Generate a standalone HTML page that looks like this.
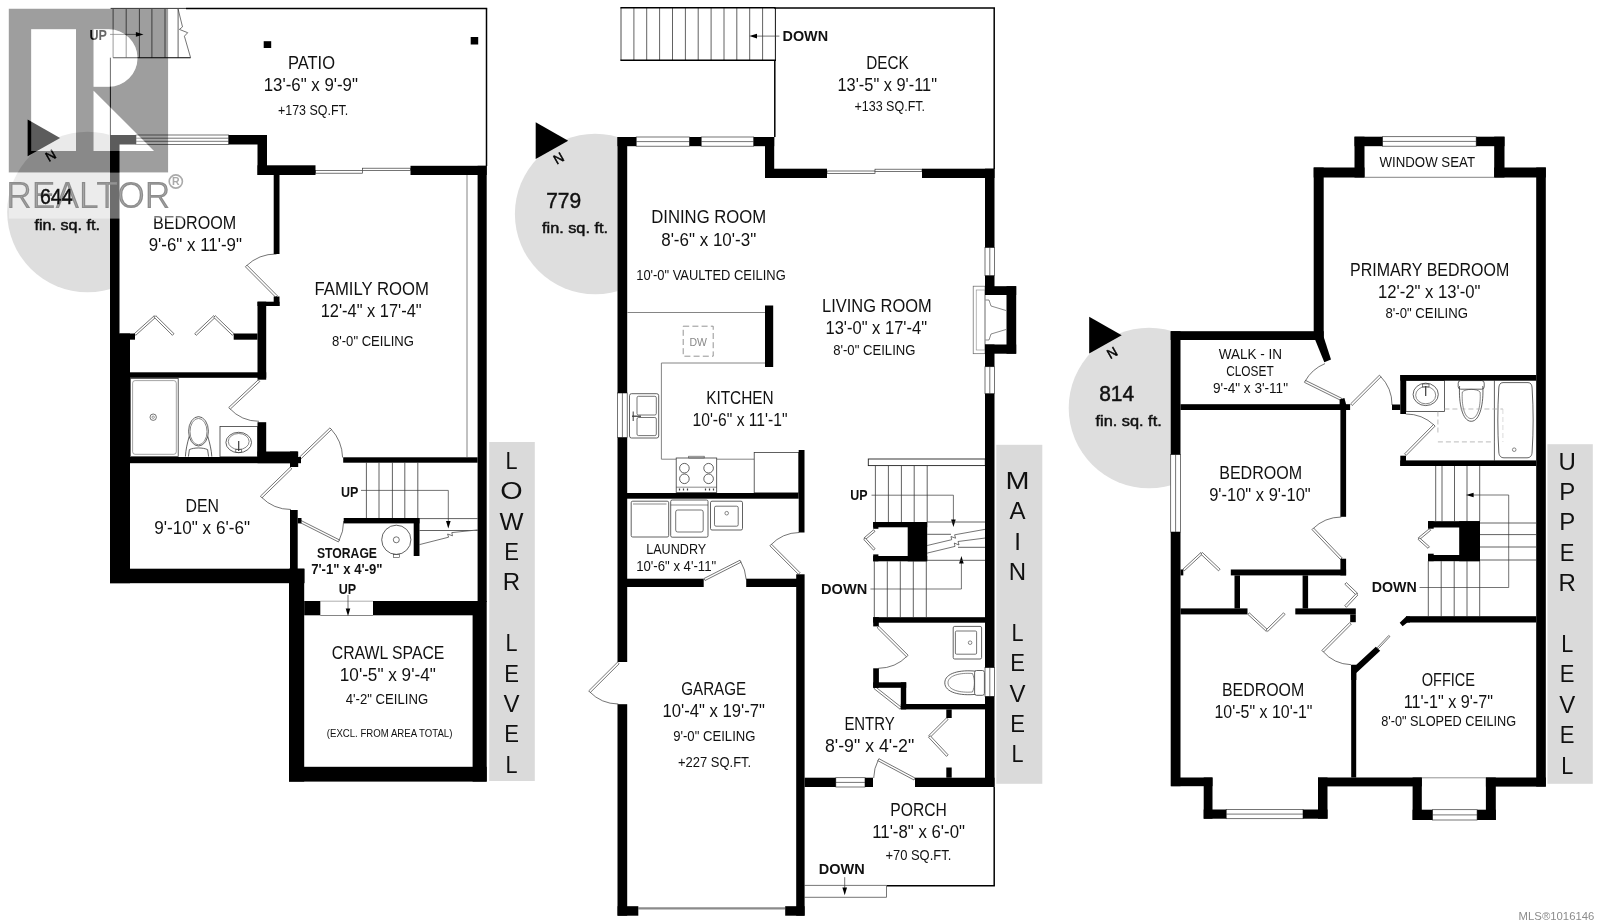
<!DOCTYPE html><html><head><meta charset="utf-8"><style>html,body{margin:0;padding:0;background:#fff}svg{display:block;filter:grayscale(1)}text{font-family:"Liberation Sans",sans-serif}</style></head><body>
<svg width="1600" height="923" viewBox="0 0 1600 923">
<rect width="1600" height="923" fill="#fff"/>
<circle cx="87.5" cy="212" r="80.3" fill="#dedede"/>
<circle cx="595.2" cy="214" r="80.3" fill="#dedede"/>
<circle cx="1149" cy="408" r="80.3" fill="#dedede"/>
<rect x="489.2" y="442" width="45.6" height="339" fill="#dadada"/>
<rect x="996.3" y="444.8" width="46" height="339" fill="#dadada"/>
<rect x="1547.4" y="444.2" width="45.4" height="339.6" fill="#dadada"/>
<g fill="#fff"><rect x="110" y="135" width="376.7" height="448"/><rect x="289" y="568" width="197.7" height="213"/><rect x="617.5" y="137" width="377" height="779"/><rect x="1170.7" y="331.2" width="375" height="455"/></g>
<line x1="110.6" y1="8.4" x2="186.0" y2="8.4" stroke="#222" stroke-width="0.9" />
<line x1="186.0" y1="8.5" x2="487.2" y2="8.5" stroke="#000" stroke-width="1.6" />
<line x1="486.5" y1="8.5" x2="486.5" y2="166.0" stroke="#000" stroke-width="1.5" />
<line x1="110.4" y1="57.7" x2="110.4" y2="135.0" stroke="#000" stroke-width="0.9" />
<line x1="113.1" y1="9.0" x2="113.1" y2="57.7" stroke="#3a3a3a" stroke-width="0.8" />
<line x1="126.2" y1="9.0" x2="126.2" y2="57.7" stroke="#3a3a3a" stroke-width="0.8" />
<line x1="139.4" y1="9.0" x2="139.4" y2="57.7" stroke="#3a3a3a" stroke-width="0.8" />
<line x1="151.9" y1="9.0" x2="151.9" y2="57.7" stroke="#3a3a3a" stroke-width="0.8" />
<line x1="165.0" y1="9.0" x2="165.0" y2="57.7" stroke="#3a3a3a" stroke-width="0.8" />
<line x1="178.1" y1="9.0" x2="178.1" y2="57.7" stroke="#3a3a3a" stroke-width="0.8" />
<line x1="113.1" y1="57.7" x2="190.6" y2="57.7" stroke="#000" stroke-width="1.1" />
<path d="M178.1,9.0 L182.5,26.9 L179.4,29.4 L187.7,32.7 L184.4,36.2 L190.6,57.7" fill="none" stroke="#3a3a3a" stroke-width="0.7" stroke-linejoin="miter"/>
<line x1="110.0" y1="34.4" x2="140.0" y2="34.4" stroke="#3a3a3a" stroke-width="0.7" />
<polygon points="143.5,34.4 135.9,32.1 135.9,36.7" fill="#000"/>
<rect x="263.7" y="41.2" width="7.5" height="6.8" fill="#000"/><rect x="470.7" y="37" width="7.5" height="7.5" fill="#000"/>
<rect x="136.0" y="135.0" width="92.7" height="9.5" rx="0" fill="#fff" stroke="#3a3a3a" stroke-width="0.7" />
<line x1="136.0" y1="138.2" x2="228.7" y2="138.2" stroke="#3a3a3a" stroke-width="0.7" />
<line x1="136.0" y1="141.3" x2="228.7" y2="141.3" stroke="#3a3a3a" stroke-width="0.7" />
<rect x="315.5" y="170.6" width="47.0" height="2.6" rx="0" fill="#fff" stroke="#3a3a3a" stroke-width="0.7" />
<rect x="362.5" y="168.2" width="48.0" height="2.4" rx="0" fill="#fff" stroke="#3a3a3a" stroke-width="0.7" />
<line x1="467.0" y1="175.0" x2="467.0" y2="457.0" stroke="#777" stroke-width="0.9" />
<path d="M246.2,266.0 A43.0,43.0 0 0 1 276.5,254.0" fill="none" stroke="#3a3a3a" stroke-width="0.7"/>
<path d="M277.3,295.7 L247.0,265.2 L245.4,266.8 L275.7,297.3 Z" fill="#fff" stroke="#3a3a3a" stroke-width="0.7" stroke-linejoin="miter"/>
<path d="M229.5,408.3 A40.4,40.4 0 0 0 259.0,421.3" fill="none" stroke="#3a3a3a" stroke-width="0.7"/>
<path d="M258.2,379.9 L228.7,407.5 L230.3,409.1 L259.8,381.5 Z" fill="#fff" stroke="#3a3a3a" stroke-width="0.7" stroke-linejoin="miter"/>
<path d="M330.7,428.7 A43.7,43.7 0 0 1 342.6,457.5" fill="none" stroke="#3a3a3a" stroke-width="0.7"/>
<path d="M300.0,459.8 L331.5,429.5 L329.9,427.9 L298.4,458.2 Z" fill="#fff" stroke="#3a3a3a" stroke-width="0.7" stroke-linejoin="miter"/>
<path d="M261.2,497.0 A41.6,41.6 0 0 0 291.0,509.5" fill="none" stroke="#3a3a3a" stroke-width="0.7"/>
<path d="M290.2,467.2 L260.4,496.2 L262.0,497.8 L291.8,468.8 Z" fill="#fff" stroke="#3a3a3a" stroke-width="0.7" stroke-linejoin="miter"/>
<path d="M338.9,540.9 A44.1,44.1 0 0 0 343.7,521.0" fill="none" stroke="#3a3a3a" stroke-width="0.7"/>
<path d="M299.0,522.0 L338.4,541.9 L339.4,539.9 L300.0,520.0 Z" fill="#fff" stroke="#3a3a3a" stroke-width="0.7" stroke-linejoin="miter"/>
<path d="M135.7,335.3 L155.7,317.3 L154.3,315.7 L134.3,333.7 Z" fill="#fff" stroke="#3a3a3a" stroke-width="0.7" stroke-linejoin="miter"/>
<path d="M154.2,317.3 L172.4,335.3 L174.0,333.7 L155.8,315.7 Z" fill="#fff" stroke="#3a3a3a" stroke-width="0.7" stroke-linejoin="miter"/>
<path d="M196.3,335.3 L215.3,317.3 L213.7,315.7 L194.7,333.7 Z" fill="#fff" stroke="#3a3a3a" stroke-width="0.7" stroke-linejoin="miter"/>
<path d="M213.7,317.3 L232.4,335.3 L234.0,333.7 L215.3,315.7 Z" fill="#fff" stroke="#3a3a3a" stroke-width="0.7" stroke-linejoin="miter"/>
<rect x="130.5" y="378.5" width="47.7" height="78.0" rx="0" fill="none" stroke="#3a3a3a" stroke-width="0.8" />
<rect x="132.6" y="380.6" width="43.7" height="73.7" rx="2.5" fill="none" stroke="#666" stroke-width="0.6" />
<circle cx="153.2" cy="417.2" r="3.2" fill="none" stroke="#3a3a3a" stroke-width="0.7"/><circle cx="153.2" cy="417.2" r="1.2" fill="none" stroke="#3a3a3a" stroke-width="0.5"/>
<ellipse cx="198.5" cy="431.3" rx="9.9" ry="14.7" fill="#fff" stroke="#3a3a3a" stroke-width="0.8"/><ellipse cx="198.5" cy="431.6" rx="8.5" ry="13.2" fill="none" stroke="#3a3a3a" stroke-width="0.6"/>
<path d="M189.2,436.5 C187,444 185.8,450 185.4,456.6 M207.8,436.5 C210,444 211.4,450 211.8,456.6" fill="none" stroke="#3a3a3a" stroke-width="0.8"/>
<path d="M188.4,456.6 L189.4,449.6 C194,447.4 203,447.4 207.6,449.6 L208.6,456.6" fill="#fff" stroke="#3a3a3a" stroke-width="0.8"/>
<rect x="220.0" y="426.5" width="37.5" height="30.3" rx="0" fill="none" stroke="#3a3a3a" stroke-width="0.8" />
<ellipse cx="238.7" cy="442.5" rx="12.8" ry="10.2" fill="none" stroke="#3a3a3a" stroke-width="0.8"/><ellipse cx="238.7" cy="441.5" rx="10.4" ry="8" fill="none" stroke="#3a3a3a" stroke-width="0.6"/>
<line x1="238.7" y1="441.0" x2="238.7" y2="451.0" stroke="#3a3a3a" stroke-width="1.2" />
<rect x="235.8" y="449.5" width="5.8" height="3.0" rx="0" fill="none" stroke="#3a3a3a" stroke-width="0.6" />
<line x1="366.4" y1="462.7" x2="366.4" y2="518.0" stroke="#3a3a3a" stroke-width="0.8" />
<line x1="379.0" y1="462.7" x2="379.0" y2="518.0" stroke="#3a3a3a" stroke-width="0.8" />
<line x1="392.4" y1="462.7" x2="392.4" y2="518.0" stroke="#3a3a3a" stroke-width="0.8" />
<line x1="404.8" y1="462.7" x2="404.8" y2="518.0" stroke="#3a3a3a" stroke-width="0.8" />
<line x1="417.8" y1="462.7" x2="417.8" y2="518.0" stroke="#3a3a3a" stroke-width="0.8" />
<path d="M361.0,490.4 L448.3,490.4 L448.3,523.0" fill="none" stroke="#3a3a3a" stroke-width="0.7" stroke-linejoin="miter"/>
<polygon points="448.3,528.5 446.0,520.9 450.6,520.9" fill="#000"/>
<line x1="419.5" y1="518.6" x2="477.6" y2="518.6" stroke="#3a3a3a" stroke-width="0.8" />
<line x1="419.5" y1="530.5" x2="477.6" y2="530.5" stroke="#3a3a3a" stroke-width="0.8" />
<path d="M419.5,544.6 L448.6,537.2 L447.6,534.0 L452.5,535.8 L451.8,532.6 L477.6,529.9" fill="#fff" stroke="#3a3a3a" stroke-width="0.7" stroke-linejoin="miter"/>
<circle cx="396.3" cy="539.8" r="14.6" fill="#fff" stroke="#3a3a3a" stroke-width="0.8"/><circle cx="396.3" cy="539.8" r="3" fill="none" stroke="#3a3a3a" stroke-width="0.7"/>
<rect x="393.6" y="554.4" width="5.8" height="3.2" rx="0" fill="none" stroke="#3a3a3a" stroke-width="0.6" />
<line x1="320.3" y1="601.2" x2="373.0" y2="601.2" stroke="#999" stroke-width="0.8" />
<line x1="320.3" y1="615.5" x2="373.0" y2="615.5" stroke="#777" stroke-width="0.9" />
<line x1="348.0" y1="595.0" x2="348.0" y2="610.0" stroke="#3a3a3a" stroke-width="0.7" />
<polygon points="348.0,616.0 345.7,608.4 350.3,608.4" fill="#000"/>
<line x1="621.0" y1="7.8" x2="621.0" y2="60.3" stroke="#3a3a3a" stroke-width="0.9" />
<line x1="633.9" y1="8.0" x2="633.9" y2="60.0" stroke="#3a3a3a" stroke-width="0.8" />
<line x1="646.7" y1="8.0" x2="646.7" y2="60.0" stroke="#3a3a3a" stroke-width="0.8" />
<line x1="659.6" y1="8.0" x2="659.6" y2="60.0" stroke="#3a3a3a" stroke-width="0.8" />
<line x1="672.5" y1="8.0" x2="672.5" y2="60.0" stroke="#3a3a3a" stroke-width="0.8" />
<line x1="685.4" y1="8.0" x2="685.4" y2="60.0" stroke="#3a3a3a" stroke-width="0.8" />
<line x1="698.2" y1="8.0" x2="698.2" y2="60.0" stroke="#3a3a3a" stroke-width="0.8" />
<line x1="711.1" y1="8.0" x2="711.1" y2="60.0" stroke="#3a3a3a" stroke-width="0.8" />
<line x1="724.0" y1="8.0" x2="724.0" y2="60.0" stroke="#3a3a3a" stroke-width="0.8" />
<line x1="736.8" y1="8.0" x2="736.8" y2="60.0" stroke="#3a3a3a" stroke-width="0.8" />
<line x1="749.7" y1="8.0" x2="749.7" y2="60.0" stroke="#3a3a3a" stroke-width="0.8" />
<line x1="762.6" y1="8.0" x2="762.6" y2="60.0" stroke="#3a3a3a" stroke-width="0.8" />
<line x1="775.4" y1="7.8" x2="775.4" y2="60.3" stroke="#111" stroke-width="1.0" />
<line x1="620.4" y1="7.8" x2="775.4" y2="7.8" stroke="#000" stroke-width="1.5" />
<line x1="620.4" y1="60.3" x2="776.0" y2="60.3" stroke="#000" stroke-width="1.5" />
<line x1="774.2" y1="8.0" x2="995.0" y2="8.0" stroke="#000" stroke-width="1.5" />
<line x1="994.2" y1="8.0" x2="994.2" y2="169.0" stroke="#000" stroke-width="1.5" />
<line x1="774.8" y1="60.0" x2="774.8" y2="137.0" stroke="#000" stroke-width="1.5" />
<line x1="756.0" y1="36.1" x2="779.4" y2="36.1" stroke="#3a3a3a" stroke-width="0.7" />
<polygon points="749.4,36.1 757.0,33.8 757.0,38.4" fill="#000"/>
<rect x="636.2" y="137.0" width="53.3" height="9.2" rx="0" fill="#fff" stroke="#3a3a3a" stroke-width="0.7" />
<line x1="636.2" y1="141.6" x2="689.5" y2="141.6" stroke="#3a3a3a" stroke-width="0.7" />
<rect x="701.2" y="137.0" width="52.5" height="9.2" rx="0" fill="#fff" stroke="#3a3a3a" stroke-width="0.7" />
<line x1="701.2" y1="141.6" x2="753.7" y2="141.6" stroke="#3a3a3a" stroke-width="0.7" />
<rect x="827.0" y="171.0" width="48.0" height="2.4" rx="0" fill="#fff" stroke="#3a3a3a" stroke-width="0.7" />
<rect x="875.0" y="169.2" width="47.0" height="2.2" rx="0" fill="#fff" stroke="#3a3a3a" stroke-width="0.7" />
<rect x="985.0" y="247.5" width="9.5" height="28.2" rx="0" fill="#fff" stroke="#3a3a3a" stroke-width="0.7" />
<line x1="989.8" y1="247.5" x2="989.8" y2="275.7" stroke="#3a3a3a" stroke-width="0.7" />
<rect x="985.0" y="366.7" width="9.5" height="27.0" rx="0" fill="#fff" stroke="#3a3a3a" stroke-width="0.7" />
<line x1="989.8" y1="366.7" x2="989.8" y2="393.7" stroke="#3a3a3a" stroke-width="0.7" />
<rect x="985.0" y="667.6" width="9.5" height="28.8" rx="0" fill="#fff" stroke="#3a3a3a" stroke-width="0.7" />
<line x1="989.8" y1="667.6" x2="989.8" y2="696.4" stroke="#3a3a3a" stroke-width="0.7" />
<rect x="617.5" y="393.0" width="9.7" height="44.5" rx="0" fill="#fff" stroke="#3a3a3a" stroke-width="0.7" />
<line x1="622.4" y1="393.0" x2="622.4" y2="437.5" stroke="#3a3a3a" stroke-width="0.7" />
<rect x="835.8" y="777.7" width="29.2" height="9.3" rx="0" fill="#fff" stroke="#3a3a3a" stroke-width="0.7" />
<line x1="835.8" y1="782.4" x2="865.0" y2="782.4" stroke="#3a3a3a" stroke-width="0.7" />
<line x1="627.5" y1="312.5" x2="765.0" y2="312.5" stroke="#777" stroke-width="0.9" />
<line x1="661.4" y1="363.0" x2="765.0" y2="363.0" stroke="#777" stroke-width="0.9" />
<line x1="661.4" y1="363.0" x2="661.4" y2="459.2" stroke="#777" stroke-width="0.9" />
<line x1="661.4" y1="459.2" x2="676.2" y2="459.2" stroke="#777" stroke-width="0.9" />
<line x1="716.7" y1="459.2" x2="754.2" y2="459.2" stroke="#777" stroke-width="0.9" />
<rect x="683.2" y="326.2" width="30" height="30" fill="none" stroke="#888" stroke-width="0.9" stroke-dasharray="6 3.2"/>
<text x="698.2" y="346" font-size="10.5" text-anchor="middle" fill="#888">DW</text>
<rect x="629.5" y="393.7" width="29.2" height="44.3" rx="2" fill="#fff" stroke="#3a3a3a" stroke-width="0.8" />
<rect x="637.0" y="396.3" width="19.3" height="18.7" rx="1.5" fill="none" stroke="#3a3a3a" stroke-width="0.7" />
<rect x="637.0" y="417.5" width="19.3" height="18.1" rx="1.5" fill="none" stroke="#3a3a3a" stroke-width="0.7" />
<line x1="632.0" y1="416.2" x2="641.0" y2="416.2" stroke="#3a3a3a" stroke-width="1.3" />
<line x1="633.2" y1="411.5" x2="633.2" y2="421.0" stroke="#3a3a3a" stroke-width="1.0" />
<rect x="676.2" y="458.0" width="40.5" height="34.5" rx="0" fill="#fff" stroke="#3a3a3a" stroke-width="0.8" />
<rect x="688.7" y="456.2" width="15.5" height="1.8" rx="0" fill="none" stroke="#3a3a3a" stroke-width="0.6" />
<circle cx="684.4" cy="468.2" r="4.8" fill="none" stroke="#3a3a3a" stroke-width="0.8"/>
<circle cx="684.4" cy="478.8" r="4.8" fill="none" stroke="#3a3a3a" stroke-width="0.8"/>
<circle cx="708.6" cy="468.2" r="4.8" fill="none" stroke="#3a3a3a" stroke-width="0.8"/>
<circle cx="708.6" cy="478.8" r="4.8" fill="none" stroke="#3a3a3a" stroke-width="0.8"/>
<line x1="676.2" y1="487.2" x2="716.7" y2="487.2" stroke="#3a3a3a" stroke-width="0.6" />
<line x1="679.5" y1="488.5" x2="679.5" y2="490.5" stroke="#3a3a3a" stroke-width="1.2" />
<line x1="683.5" y1="488.5" x2="683.5" y2="490.5" stroke="#3a3a3a" stroke-width="1.2" />
<line x1="687.5" y1="488.5" x2="687.5" y2="490.5" stroke="#3a3a3a" stroke-width="1.2" />
<line x1="705.5" y1="488.5" x2="705.5" y2="490.5" stroke="#3a3a3a" stroke-width="1.2" />
<line x1="709.5" y1="488.5" x2="709.5" y2="490.5" stroke="#3a3a3a" stroke-width="1.2" />
<line x1="713.5" y1="488.5" x2="713.5" y2="490.5" stroke="#3a3a3a" stroke-width="1.2" />
<rect x="754.2" y="452.5" width="44.5" height="40.3" rx="0" fill="#fff" stroke="#3a3a3a" stroke-width="0.8" />
<rect x="631.2" y="501.2" width="37.5" height="35.8" rx="1.5" fill="none" stroke="#3a3a3a" stroke-width="0.8" />
<line x1="633.0" y1="504.0" x2="666.5" y2="504.0" stroke="#3a3a3a" stroke-width="0.6" />
<rect x="670.7" y="500.0" width="37.3" height="37.2" rx="1.5" fill="none" stroke="#3a3a3a" stroke-width="0.8" />
<line x1="670.7" y1="505.0" x2="708.0" y2="505.0" stroke="#3a3a3a" stroke-width="0.6" />
<rect x="675.7" y="510.0" width="27.5" height="22.0" rx="2" fill="none" stroke="#3a3a3a" stroke-width="0.7" />
<rect x="710.5" y="501.2" width="32.0" height="28.8" rx="1.5" fill="none" stroke="#3a3a3a" stroke-width="0.8" />
<rect x="714.5" y="506.2" width="23.7" height="20.0" rx="1.5" fill="none" stroke="#3a3a3a" stroke-width="0.7" />
<circle cx="726.7" cy="513.2" r="1.8" fill="none" stroke="#3a3a3a" stroke-width="0.6"/>
<path d="M770.7,545.0 A40.3,40.3 0 0 1 799.2,532.5" fill="none" stroke="#3a3a3a" stroke-width="0.7"/>
<path d="M800.0,572.7 L771.5,544.2 L769.9,545.8 L798.4,574.3 Z" fill="#fff" stroke="#3a3a3a" stroke-width="0.7" stroke-linejoin="miter"/>
<path d="M740.5,561.2 A40.4,40.4 0 0 1 746.2,579.5" fill="none" stroke="#3a3a3a" stroke-width="0.7"/>
<path d="M705.0,580.5 L741.0,562.2 L740.0,560.2 L704.0,578.5 Z" fill="#fff" stroke="#3a3a3a" stroke-width="0.7" stroke-linejoin="miter"/>
<path d="M589.5,691.7 A40.7,40.7 0 0 0 618.3,704.0" fill="none" stroke="#3a3a3a" stroke-width="0.7"/>
<path d="M617.5,662.2 L588.7,690.9 L590.3,692.5 L619.1,663.8 Z" fill="#fff" stroke="#3a3a3a" stroke-width="0.7" stroke-linejoin="miter"/>
<path d="M907.3,656.0 A41.2,41.2 0 0 1 878.4,668.3" fill="none" stroke="#3a3a3a" stroke-width="0.7"/>
<path d="M877.2,627.8 L906.5,656.8 L908.1,655.2 L878.8,626.2 Z" fill="#fff" stroke="#3a3a3a" stroke-width="0.7" stroke-linejoin="miter"/>
<path d="M878.4,759.7 A40.9,40.9 0 0 0 873.7,778.0" fill="none" stroke="#3a3a3a" stroke-width="0.7"/>
<path d="M915.0,778.0 L878.9,758.7 L877.9,760.7 L914.0,780.0 Z" fill="#fff" stroke="#3a3a3a" stroke-width="0.7" stroke-linejoin="miter"/>
<path d="M874.1,688.7 L900.1,709.2 L901.5,707.4 L875.5,686.9 Z" fill="#fff" stroke="#3a3a3a" stroke-width="0.7" stroke-linejoin="miter"/>
<path d="M946.5,717.9 L928.6,735.7 L930.2,737.3 L948.1,719.5 Z" fill="#fff" stroke="#3a3a3a" stroke-width="0.7" stroke-linejoin="miter"/>
<path d="M928.6,737.3 L946.5,756.4 L948.1,754.8 L930.2,735.7 Z" fill="#fff" stroke="#3a3a3a" stroke-width="0.7" stroke-linejoin="miter"/>
<path d="M873.6,529.8 L863.9,538.0 L865.3,539.6 L875.0,531.4 Z" fill="#fff" stroke="#3a3a3a" stroke-width="0.7" stroke-linejoin="miter"/>
<path d="M863.8,539.5 L873.5,550.1 L875.1,548.7 L865.4,538.1 Z" fill="#fff" stroke="#3a3a3a" stroke-width="0.7" stroke-linejoin="miter"/>
<rect x="973.2" y="286.2" width="11.8" height="67.5" rx="0" fill="none" stroke="#666" stroke-width="0.7" />
<rect x="976.2" y="290.0" width="8.8" height="60.0" rx="0" fill="none" stroke="#888" stroke-width="0.6" />
<path d="M985.5,300.0 L989.0,300.0 L991.0,306.0 L1006.0,310.5" fill="none" stroke="#3a3a3a" stroke-width="0.6" stroke-linejoin="miter"/>
<path d="M985.5,340.0 L989.0,340.0 L991.0,334.0 L1006.0,329.5" fill="none" stroke="#3a3a3a" stroke-width="0.6" stroke-linejoin="miter"/>
<rect x="868.3" y="459.0" width="117.0" height="6.6" rx="0" fill="#fff" stroke="#222" stroke-width="0.9" />
<line x1="875.4" y1="465.6" x2="875.4" y2="522.0" stroke="#3a3a3a" stroke-width="0.8" />
<line x1="888.4" y1="465.6" x2="888.4" y2="522.0" stroke="#3a3a3a" stroke-width="0.8" />
<line x1="901.4" y1="465.6" x2="901.4" y2="522.0" stroke="#3a3a3a" stroke-width="0.8" />
<line x1="914.2" y1="465.6" x2="914.2" y2="522.0" stroke="#3a3a3a" stroke-width="0.8" />
<line x1="927.2" y1="465.6" x2="927.2" y2="522.0" stroke="#3a3a3a" stroke-width="0.8" />
<line x1="874.3" y1="561.3" x2="874.3" y2="617.2" stroke="#3a3a3a" stroke-width="0.8" />
<line x1="887.3" y1="561.3" x2="887.3" y2="617.2" stroke="#3a3a3a" stroke-width="0.8" />
<line x1="900.3" y1="561.3" x2="900.3" y2="617.2" stroke="#3a3a3a" stroke-width="0.8" />
<line x1="913.3" y1="561.3" x2="913.3" y2="617.2" stroke="#3a3a3a" stroke-width="0.8" />
<line x1="926.3" y1="561.3" x2="926.3" y2="617.2" stroke="#3a3a3a" stroke-width="0.8" />
<path d="M871.5,495.2 L953.4,495.2 L953.4,521.0" fill="none" stroke="#3a3a3a" stroke-width="0.7" stroke-linejoin="miter"/>
<polygon points="953.4,527.0 951.1,519.4 955.7,519.4" fill="#000"/>
<path d="M870.4,589.0 L961.4,589.0 L961.4,562.0" fill="none" stroke="#3a3a3a" stroke-width="0.7" stroke-linejoin="miter"/>
<polygon points="961.4,556.0 959.1,563.6 963.7,563.6" fill="#000"/>
<line x1="927.2" y1="522.0" x2="985.3" y2="522.0" stroke="#3a3a3a" stroke-width="0.8" />
<line x1="927.2" y1="534.3" x2="951.0" y2="534.3" stroke="#3a3a3a" stroke-width="0.8" />
<line x1="958.0" y1="547.3" x2="985.3" y2="547.3" stroke="#3a3a3a" stroke-width="0.8" />
<line x1="927.2" y1="560.3" x2="985.3" y2="560.3" stroke="#3a3a3a" stroke-width="0.8" />
<path d="M927.2,545.5 L951.7,539.7 L951.0,536.5 L955.6,538.2 L954.6,534.8 L985.3,529.3" fill="none" stroke="#3a3a3a" stroke-width="0.7" stroke-linejoin="miter"/>
<path d="M927.2,553.1 L955.0,546.4 L954.3,543.0 L959.0,545.0 L958.0,541.5 L985.3,538.0" fill="none" stroke="#3a3a3a" stroke-width="0.7" stroke-linejoin="miter"/>
<rect x="953.2" y="626.4" width="28.4" height="32.6" rx="1.5" fill="none" stroke="#3a3a3a" stroke-width="0.8" />
<rect x="955.4" y="631.0" width="21.2" height="23.2" rx="1.2" fill="none" stroke="#3a3a3a" stroke-width="0.7" />
<circle cx="970.1" cy="642.7" r="1.8" fill="none" stroke="#3a3a3a" stroke-width="0.6"/>
<path d="M976,671.2 C960,669.5 944.8,673 944.8,682.8 C944.8,692.5 960,696 976,694.3 Z" fill="#fff" stroke="#3a3a3a" stroke-width="0.8"/>
<path d="M972.5,673.5 C960,672.5 948,675.5 948,682.8 C948,690 960,693 972.5,692 C975,686 975,679.5 972.5,673.5 Z" fill="none" stroke="#3a3a3a" stroke-width="0.6"/>
<rect x="974.6" y="670.5" width="9.8" height="24.8" rx="2" fill="#fff" stroke="#3a3a3a" stroke-width="0.8" />
<line x1="638.3" y1="908.4" x2="785.2" y2="908.4" stroke="#8a8a8a" stroke-width="2.2" />
<line x1="994.2" y1="787.0" x2="994.2" y2="885.7" stroke="#000" stroke-width="1.5" />
<line x1="886.5" y1="885.7" x2="994.9" y2="885.7" stroke="#000" stroke-width="1.5" />
<line x1="804.6" y1="885.4" x2="886.5" y2="885.4" stroke="#666" stroke-width="0.9" />
<line x1="804.6" y1="897.3" x2="886.5" y2="897.3" stroke="#666" stroke-width="0.9" />
<line x1="886.5" y1="885.4" x2="886.5" y2="897.3" stroke="#666" stroke-width="0.9" />
<line x1="844.7" y1="877.2" x2="844.7" y2="890.0" stroke="#3a3a3a" stroke-width="0.7" />
<polygon points="844.7,895.2 842.4,887.6 847.0,887.6" fill="#000"/>
<rect x="1382.5" y="136.7" width="93.7" height="9.5" rx="0" fill="#fff" stroke="#3a3a3a" stroke-width="0.7" />
<line x1="1382.5" y1="141.4" x2="1476.2" y2="141.4" stroke="#3a3a3a" stroke-width="0.7" />
<line x1="1364.5" y1="177.3" x2="1494.2" y2="177.3" stroke="#777" stroke-width="0.9" />
<rect x="1170.7" y="454.6" width="9.8" height="77.4" rx="0" fill="#fff" stroke="#3a3a3a" stroke-width="0.7" />
<line x1="1175.6" y1="454.6" x2="1175.6" y2="532.0" stroke="#3a3a3a" stroke-width="0.7" />
<rect x="1226.2" y="809.5" width="76.8" height="9.2" rx="0" fill="#fff" stroke="#3a3a3a" stroke-width="0.7" />
<line x1="1226.2" y1="814.1" x2="1303.0" y2="814.1" stroke="#3a3a3a" stroke-width="0.7" />
<rect x="1432.5" y="809.7" width="44.6" height="10.3" rx="0" fill="#fff" stroke="#3a3a3a" stroke-width="0.7" />
<line x1="1432.5" y1="814.9" x2="1477.1" y2="814.9" stroke="#3a3a3a" stroke-width="0.7" />
<line x1="1421.8" y1="777.8" x2="1485.9" y2="777.8" stroke="#888" stroke-width="0.9" />
<path d="M1305.0,381.4 A40.4,40.4 0 0 1 1325.0,363.6" fill="none" stroke="#3a3a3a" stroke-width="0.7"/>
<path d="M1341.7,398.3 L1305.5,380.4 L1304.5,382.4 L1340.7,400.3 Z" fill="#fff" stroke="#3a3a3a" stroke-width="0.7" stroke-linejoin="miter"/>
<path d="M1380.2,376.0 A40.7,40.7 0 0 1 1392.0,405.0" fill="none" stroke="#3a3a3a" stroke-width="0.7"/>
<path d="M1352.2,405.5 L1381.0,376.8 L1379.4,375.2 L1350.6,403.9 Z" fill="#fff" stroke="#3a3a3a" stroke-width="0.7" stroke-linejoin="miter"/>
<path d="M1434.3,425.3 A41.2,41.2 0 0 0 1405.7,414.0" fill="none" stroke="#3a3a3a" stroke-width="0.7"/>
<path d="M1406.2,455.4 L1435.1,426.1 L1433.5,424.5 L1404.6,453.8 Z" fill="#fff" stroke="#3a3a3a" stroke-width="0.7" stroke-linejoin="miter"/>
<path d="M1312.8,528.8 A41.3,41.3 0 0 1 1341.3,517.0" fill="none" stroke="#3a3a3a" stroke-width="0.7"/>
<path d="M1342.1,557.9 L1313.6,528.0 L1312.0,529.6 L1340.5,559.5 Z" fill="#fff" stroke="#3a3a3a" stroke-width="0.7" stroke-linejoin="miter"/>
<path d="M1322.7,651.2 A39.4,39.4 0 0 0 1351.0,664.7" fill="none" stroke="#3a3a3a" stroke-width="0.7"/>
<path d="M1349.7,622.5 L1321.9,650.4 L1323.5,652.0 L1351.3,624.1 Z" fill="#fff" stroke="#3a3a3a" stroke-width="0.7" stroke-linejoin="miter"/>
<path d="M1378.6,648.5 L1389.9,636.5 L1388.7,635.5 L1377.4,647.5 Z" fill="#fff" stroke="#3a3a3a" stroke-width="0.7" stroke-linejoin="miter"/>
<path d="M1184.3,570.8 L1202.3,554.1 L1200.9,552.5 L1182.9,569.2 Z" fill="#fff" stroke="#3a3a3a" stroke-width="0.7" stroke-linejoin="miter"/>
<path d="M1200.8,554.1 L1218.5,570.8 L1220.1,569.2 L1202.4,552.5 Z" fill="#fff" stroke="#3a3a3a" stroke-width="0.7" stroke-linejoin="miter"/>
<path d="M1247.9,614.4 L1266.3,631.4 L1267.7,629.8 L1249.3,612.8 Z" fill="#fff" stroke="#3a3a3a" stroke-width="0.7" stroke-linejoin="miter"/>
<path d="M1267.8,631.4 L1285.1,614.4 L1283.5,612.8 L1266.2,629.8 Z" fill="#fff" stroke="#3a3a3a" stroke-width="0.7" stroke-linejoin="miter"/>
<path d="M1344.8,584.2 L1356.2,595.1 L1357.8,593.5 L1346.4,582.6 Z" fill="#fff" stroke="#3a3a3a" stroke-width="0.7" stroke-linejoin="miter"/>
<path d="M1356.2,593.5 L1344.8,605.7 L1346.4,607.3 L1357.8,595.1 Z" fill="#fff" stroke="#3a3a3a" stroke-width="0.7" stroke-linejoin="miter"/>
<path d="M1429.3,528.7 L1418.2,537.9 L1419.6,539.5 L1430.7,530.3 Z" fill="#fff" stroke="#3a3a3a" stroke-width="0.7" stroke-linejoin="miter"/>
<path d="M1418.2,539.5 L1428.0,548.3 L1429.4,546.7 L1419.6,537.9 Z" fill="#fff" stroke="#3a3a3a" stroke-width="0.7" stroke-linejoin="miter"/>
<rect x="1405.9" y="380.6" width="38.5" height="30.9" rx="0" fill="none" stroke="#3a3a3a" stroke-width="0.8" />
<ellipse cx="1425.7" cy="394.4" rx="12.6" ry="11.2" fill="none" stroke="#3a3a3a" stroke-width="0.8"/><ellipse cx="1425.7" cy="395.2" rx="10" ry="8.6" fill="none" stroke="#3a3a3a" stroke-width="0.6"/>
<line x1="1425.7" y1="386.0" x2="1425.7" y2="396.0" stroke="#3a3a3a" stroke-width="1.2" />
<rect x="1422.5" y="384.0" width="6.5" height="3.0" rx="0" fill="none" stroke="#3a3a3a" stroke-width="0.6" />
<rect x="1458.2" y="380.6" width="26.0" height="8.6" rx="2.5" fill="#fff" stroke="#3a3a3a" stroke-width="0.8" />
<path d="M1459.6,386 C1458.6,402 1462,421.3 1471.2,421.3 C1480.4,421.3 1483.8,402 1482.8,386" fill="none" stroke="#3a3a3a" stroke-width="0.8"/>
<path d="M1462.3,392 C1461.5,404 1464,418.6 1471.2,418.6 C1478.4,418.6 1481,404 1480.1,392 C1477,388.5 1465.5,388.5 1462.3,392 Z" fill="none" stroke="#3a3a3a" stroke-width="0.6"/>
<line x1="1494.4" y1="380.6" x2="1494.4" y2="460.6" stroke="#3a3a3a" stroke-width="0.8" />
<path d="M1503,382.6 L1528,382.6 C1531,382.6 1532,385 1532.1,388 C1533.5,410 1533.5,430 1532.1,452 C1532,456 1530,457.8 1527,457.8 L1504,457.8 C1501,457.8 1499,456 1498.8,452 C1497.5,430 1497.5,410 1498.8,388 C1499,385 1500,382.6 1503,382.6 Z" fill="none" stroke="#3a3a3a" stroke-width="0.8"/>
<circle cx="1514.2" cy="449.7" r="1.8" fill="none" stroke="#3a3a3a" stroke-width="0.6"/>
<line x1="1444.4" y1="409.0" x2="1502.9" y2="409.0" stroke="#aaa" stroke-width="0.8" stroke-dasharray="5 3"/>
<line x1="1437.9" y1="441.9" x2="1494.4" y2="441.9" stroke="#aaa" stroke-width="0.8" stroke-dasharray="5 3"/>
<line x1="1437.9" y1="411.5" x2="1437.9" y2="433.4" stroke="#aaa" stroke-width="0.8" stroke-dasharray="5 3"/>
<line x1="1502.9" y1="409.0" x2="1502.9" y2="442.0" stroke="#ccc" stroke-width="0.7" stroke-dasharray="5 3"/>
<line x1="1435.7" y1="465.7" x2="1435.7" y2="521.2" stroke="#3a3a3a" stroke-width="0.8" />
<line x1="1442.0" y1="465.7" x2="1442.0" y2="521.2" stroke="#3a3a3a" stroke-width="0.8" />
<line x1="1454.5" y1="465.7" x2="1454.5" y2="521.2" stroke="#3a3a3a" stroke-width="0.8" />
<line x1="1467.0" y1="465.7" x2="1467.0" y2="521.2" stroke="#3a3a3a" stroke-width="0.8" />
<line x1="1479.7" y1="465.7" x2="1479.7" y2="521.2" stroke="#3a3a3a" stroke-width="0.8" />
<line x1="1428.3" y1="561.2" x2="1428.3" y2="616.2" stroke="#3a3a3a" stroke-width="0.8" />
<line x1="1441.2" y1="561.2" x2="1441.2" y2="616.2" stroke="#3a3a3a" stroke-width="0.8" />
<line x1="1454.2" y1="561.2" x2="1454.2" y2="616.2" stroke="#3a3a3a" stroke-width="0.8" />
<line x1="1467.0" y1="561.2" x2="1467.0" y2="616.2" stroke="#3a3a3a" stroke-width="0.8" />
<line x1="1479.7" y1="561.2" x2="1479.7" y2="616.2" stroke="#3a3a3a" stroke-width="0.8" />
<line x1="1480.0" y1="523.0" x2="1536.0" y2="523.0" stroke="#3a3a3a" stroke-width="0.8" />
<line x1="1480.0" y1="534.6" x2="1536.0" y2="534.6" stroke="#3a3a3a" stroke-width="0.8" />
<line x1="1480.0" y1="547.0" x2="1536.0" y2="547.0" stroke="#3a3a3a" stroke-width="0.8" />
<line x1="1480.0" y1="560.0" x2="1536.0" y2="560.0" stroke="#3a3a3a" stroke-width="0.8" />
<path d="M1472.0,495.0 L1508.7,495.0 L1508.7,587.5 L1419.5,587.5" fill="none" stroke="#3a3a3a" stroke-width="0.7" stroke-linejoin="miter"/>
<polygon points="1466.0,495.0 1473.6,492.7 1473.6,497.3" fill="#000"/>
<g fill="#000">
<rect x="110.0" y="135.0" width="9.5" height="199.0"/>
<rect x="110.0" y="333.5" width="20.0" height="249.7"/>
<rect x="110.0" y="135.0" width="26.0" height="9.5"/>
<rect x="228.7" y="135.0" width="38.3" height="9.5"/>
<rect x="257.5" y="135.0" width="9.5" height="40.0"/>
<rect x="257.5" y="165.3" width="58.0" height="9.7"/>
<rect x="410.5" y="165.8" width="76.2" height="9.2"/>
<rect x="477.6" y="165.8" width="9.1" height="436.2"/>
<rect x="472.6" y="601.0" width="14.1" height="180.6"/>
<rect x="273.7" y="175.0" width="5.8" height="79.0"/>
<rect x="273.7" y="296.5" width="5.8" height="9.5"/>
<rect x="257.5" y="301.7" width="22.0" height="4.3"/>
<rect x="257.5" y="301.7" width="8.7" height="78.0"/>
<rect x="119.5" y="333.5" width="15.5" height="6.2"/>
<rect x="233.7" y="333.5" width="23.8" height="6.2"/>
<rect x="130.0" y="372.3" width="136.2" height="5.5"/>
<rect x="257.5" y="422.2" width="8.7" height="35.8"/>
<rect x="130.0" y="457.0" width="167.5" height="6.2"/>
<rect x="257.5" y="451.5" width="40.0" height="11.7"/>
<rect x="290.0" y="451.5" width="8.2" height="15.5"/>
<rect x="298.0" y="457.0" width="3.0" height="6.2"/>
<rect x="290.0" y="510.0" width="7.7" height="59.0"/>
<rect x="297.7" y="518.0" width="3.8" height="5.4"/>
<rect x="110.0" y="568.7" width="194.5" height="14.5"/>
<rect x="289.0" y="568.7" width="15.2" height="212.9"/>
<rect x="304.2" y="601.0" width="16.1" height="14.3"/>
<rect x="373.0" y="601.0" width="104.6" height="14.3"/>
<rect x="289.0" y="766.8" width="197.7" height="14.8"/>
<rect x="343.2" y="457.3" width="134.4" height="5.4"/>
<rect x="343.7" y="518.0" width="75.8" height="5.4"/>
<rect x="413.7" y="518.0" width="5.8" height="38.0"/>
<rect x="617.5" y="137.0" width="9.7" height="256.0"/>
<rect x="617.5" y="437.5" width="9.7" height="224.5"/>
<rect x="617.5" y="704.2" width="9.7" height="211.5"/>
<rect x="617.5" y="137.0" width="18.7" height="9.2"/>
<rect x="689.5" y="137.0" width="11.7" height="9.2"/>
<rect x="753.7" y="137.0" width="20.5" height="9.2"/>
<rect x="765.0" y="137.0" width="9.2" height="41.0"/>
<rect x="765.0" y="168.7" width="62.0" height="9.3"/>
<rect x="922.0" y="168.7" width="72.5" height="9.3"/>
<rect x="985.0" y="168.7" width="9.5" height="78.8"/>
<rect x="985.0" y="275.7" width="9.5" height="19.3"/>
<rect x="985.0" y="286.2" width="31.2" height="8.8"/>
<rect x="1006.5" y="286.2" width="9.7" height="67.5"/>
<rect x="985.0" y="344.5" width="31.2" height="9.2"/>
<rect x="985.0" y="344.5" width="9.5" height="22.2"/>
<rect x="985.0" y="393.7" width="9.5" height="273.9"/>
<rect x="985.0" y="696.4" width="9.5" height="90.4"/>
<rect x="765.0" y="305.5" width="8.2" height="61.5"/>
<rect x="627.0" y="493.0" width="171.7" height="5.7"/>
<rect x="798.7" y="450.0" width="5.8" height="82.5"/>
<rect x="796.2" y="574.3" width="8.4" height="341.4"/>
<rect x="627.0" y="578.7" width="76.7" height="8.3"/>
<rect x="746.2" y="578.7" width="52.5" height="8.3"/>
<rect x="617.6" y="906.2" width="20.7" height="9.5"/>
<rect x="785.2" y="906.2" width="19.4" height="9.5"/>
<rect x="804.6" y="777.7" width="31.2" height="9.3"/>
<rect x="865.0" y="777.7" width="8.0" height="9.3"/>
<rect x="915.0" y="777.7" width="79.5" height="9.3"/>
<rect x="873.2" y="522.0" width="54.0" height="5.3"/>
<rect x="873.2" y="556.0" width="54.0" height="5.3"/>
<rect x="907.7" y="522.0" width="19.5" height="39.3"/>
<rect x="873.2" y="522.0" width="5.2" height="6.8"/>
<rect x="873.2" y="554.4" width="5.2" height="6.9"/>
<rect x="873.2" y="617.2" width="112.1" height="5.5"/>
<rect x="873.2" y="617.2" width="5.6" height="9.2"/>
<rect x="873.2" y="668.3" width="5.7" height="19.5"/>
<rect x="873.2" y="682.3" width="33.0" height="5.5"/>
<rect x="900.8" y="682.3" width="5.4" height="27.1"/>
<rect x="900.8" y="704.0" width="84.5" height="5.4"/>
<rect x="946.3" y="709.4" width="5.4" height="8.6"/>
<rect x="946.3" y="767.5" width="5.4" height="10.2"/>
<rect x="1354.5" y="136.7" width="10.0" height="40.8"/>
<rect x="1494.2" y="136.7" width="10.3" height="40.8"/>
<rect x="1354.5" y="136.7" width="28.0" height="9.5"/>
<rect x="1476.2" y="136.7" width="28.3" height="9.5"/>
<rect x="1313.7" y="167.5" width="50.8" height="10.0"/>
<rect x="1494.2" y="167.5" width="51.6" height="10.0"/>
<rect x="1313.7" y="167.5" width="10.0" height="171.0"/>
<rect x="1536.2" y="167.5" width="9.6" height="619.1"/>
<rect x="1170.7" y="331.2" width="153.0" height="8.8"/>
<rect x="1170.7" y="331.2" width="9.8" height="123.4"/>
<rect x="1170.7" y="532.0" width="9.8" height="254.2"/>
<rect x="1180.5" y="404.2" width="169.6" height="5.8"/>
<rect x="1340.4" y="410.0" width="5.7" height="106.8"/>
<rect x="1340.4" y="558.7" width="5.7" height="16.7"/>
<rect x="1230.8" y="569.5" width="115.3" height="5.9"/>
<rect x="1180.5" y="569.5" width="2.8" height="5.9"/>
<rect x="1234.5" y="575.4" width="5.5" height="33.1"/>
<rect x="1302.6" y="575.4" width="5.5" height="33.1"/>
<rect x="1180.5" y="608.4" width="67.0" height="6.0"/>
<rect x="1295.3" y="608.4" width="60.5" height="6.0"/>
<rect x="1350.2" y="614.4" width="5.6" height="7.8"/>
<rect x="1400.3" y="375.0" width="135.9" height="5.7"/>
<rect x="1400.3" y="375.0" width="5.7" height="39.0"/>
<rect x="1392.0" y="404.5" width="8.3" height="5.5"/>
<rect x="1400.3" y="460.4" width="135.9" height="5.6"/>
<rect x="1400.3" y="455.7" width="5.7" height="10.3"/>
<rect x="1428.0" y="521.2" width="52.0" height="6.3"/>
<rect x="1428.0" y="555.0" width="52.0" height="6.2"/>
<rect x="1459.2" y="521.2" width="20.8" height="40.0"/>
<rect x="1428.0" y="521.2" width="5.7" height="7.5"/>
<rect x="1428.0" y="553.7" width="5.7" height="7.5"/>
<rect x="1406.0" y="616.2" width="130.2" height="6.3"/>
<rect x="1351.2" y="665.0" width="5.0" height="112.5"/>
<rect x="1171.2" y="777.5" width="41.3" height="8.7"/>
<rect x="1203.7" y="777.5" width="8.8" height="41.2"/>
<rect x="1203.7" y="809.5" width="22.5" height="9.2"/>
<rect x="1303.0" y="809.5" width="24.5" height="9.2"/>
<rect x="1318.0" y="777.5" width="9.5" height="41.2"/>
<rect x="1318.0" y="777.5" width="103.8" height="8.9"/>
<rect x="1412.6" y="777.5" width="9.2" height="42.5"/>
<rect x="1412.6" y="809.7" width="19.9" height="10.3"/>
<rect x="1477.1" y="809.7" width="18.7" height="10.3"/>
<rect x="1485.9" y="777.5" width="9.9" height="42.5"/>
<rect x="1485.9" y="777.5" width="59.9" height="9.1"/>
<polygon points="1314,337 1323.7,337 1331,359.6 1324.3,362.2"/>
<polygon points="1339.6,399.5 1344.4,398 1346.1,404.2 1346.1,410 1339.6,410"/>
<polygon points="1406.2,616.4 1399.7,622.7 1402.6,626.3 1407.4,622.5 1410,622.5 1410,616.4"/>
<polygon points="1351.2,664.8 1356.3,664.8 1375.8,646.8 1380.2,650.7 1356.3,673.1 1356.3,680 1351.2,680"/>
</g>
<text x="89.4" y="40.0" font-size="14.0" textLength="17.5" lengthAdjust="spacingAndGlyphs" font-weight="bold" fill="#111" >UP</text>
<text x="288.0" y="68.7" font-size="18.0" textLength="47.0" lengthAdjust="spacingAndGlyphs" fill="#111" >PATIO</text>
<text x="263.7" y="90.5" font-size="18.0" textLength="94.3" lengthAdjust="spacingAndGlyphs" fill="#111" >13'-6&quot; x 9'-9&quot;</text>
<text x="278.0" y="115.0" font-size="14.3" textLength="70.2" lengthAdjust="spacingAndGlyphs" fill="#111" >+173 SQ.FT.</text>
<text x="153.0" y="228.7" font-size="18.0" textLength="83.2" lengthAdjust="spacingAndGlyphs" fill="#111" >BEDROOM</text>
<text x="148.7" y="250.7" font-size="18.0" textLength="93.3" lengthAdjust="spacingAndGlyphs" fill="#111" >9'-6&quot; x 11'-9&quot;</text>
<text x="314.5" y="294.7" font-size="18.0" textLength="114.5" lengthAdjust="spacingAndGlyphs" fill="#111" >FAMILY ROOM</text>
<text x="320.7" y="316.7" font-size="18.0" textLength="101.0" lengthAdjust="spacingAndGlyphs" fill="#111" >12'-4&quot; x 17'-4&quot;</text>
<text x="332.0" y="345.5" font-size="14.3" textLength="82.0" lengthAdjust="spacingAndGlyphs" fill="#111" >8'-0&quot; CEILING</text>
<text x="185.5" y="511.7" font-size="18.0" textLength="33.5" lengthAdjust="spacingAndGlyphs" fill="#111" >DEN</text>
<text x="154.2" y="533.7" font-size="18.0" textLength="95.8" lengthAdjust="spacingAndGlyphs" fill="#111" >9'-10&quot; x 6'-6&quot;</text>
<text x="341.0" y="496.8" font-size="14.0" textLength="17.4" lengthAdjust="spacingAndGlyphs" font-weight="bold" fill="#111" >UP</text>
<text x="317.0" y="557.5" font-size="14.0" textLength="60.0" lengthAdjust="spacingAndGlyphs" font-weight="bold" fill="#111" >STORAGE</text>
<text x="311.2" y="574.2" font-size="14.0" textLength="71.3" lengthAdjust="spacingAndGlyphs" font-weight="bold" fill="#111" >7'-1&quot; x 4'-9&quot;</text>
<text x="338.7" y="593.7" font-size="14.0" textLength="17.5" lengthAdjust="spacingAndGlyphs" font-weight="bold" fill="#111" >UP</text>
<text x="331.8" y="658.5" font-size="18.0" textLength="112.6" lengthAdjust="spacingAndGlyphs" fill="#111" >CRAWL SPACE</text>
<text x="339.8" y="680.6" font-size="18.0" textLength="96.0" lengthAdjust="spacingAndGlyphs" fill="#111" >10'-5&quot; x 9'-4&quot;</text>
<text x="345.8" y="703.6" font-size="14.3" textLength="82.4" lengthAdjust="spacingAndGlyphs" fill="#111" >4'-2&quot; CEILING</text>
<text x="326.8" y="736.8" font-size="11.3" textLength="125.6" lengthAdjust="spacingAndGlyphs" fill="#111" >(EXCL. FROM AREA TOTAL)</text>
<text x="782.5" y="40.6" font-size="14.0" textLength="45.6" lengthAdjust="spacingAndGlyphs" font-weight="bold" fill="#111" >DOWN</text>
<text x="866.2" y="68.7" font-size="18.0" textLength="42.5" lengthAdjust="spacingAndGlyphs" fill="#111" >DECK</text>
<text x="837.5" y="90.5" font-size="18.0" textLength="99.5" lengthAdjust="spacingAndGlyphs" fill="#111" >13'-5&quot; x 9'-11&quot;</text>
<text x="854.5" y="110.7" font-size="14.3" textLength="70.5" lengthAdjust="spacingAndGlyphs" fill="#111" >+133 SQ.FT.</text>
<text x="651.2" y="223.4" font-size="18.0" textLength="115.0" lengthAdjust="spacingAndGlyphs" fill="#111" >DINING ROOM</text>
<text x="661.2" y="245.5" font-size="18.0" textLength="95.0" lengthAdjust="spacingAndGlyphs" fill="#111" >8'-6&quot; x 10'-3&quot;</text>
<text x="636.2" y="280.0" font-size="14.3" textLength="149.5" lengthAdjust="spacingAndGlyphs" fill="#111" >10'-0&quot; VAULTED CEILING</text>
<text x="822.0" y="311.8" font-size="18.0" textLength="109.7" lengthAdjust="spacingAndGlyphs" fill="#111" >LIVING ROOM</text>
<text x="825.5" y="333.7" font-size="18.0" textLength="101.5" lengthAdjust="spacingAndGlyphs" fill="#111" >13'-0&quot; x 17'-4&quot;</text>
<text x="833.2" y="354.5" font-size="14.3" textLength="82.3" lengthAdjust="spacingAndGlyphs" fill="#111" >8'-0&quot; CEILING</text>
<text x="706.2" y="403.8" font-size="18.0" textLength="67.5" lengthAdjust="spacingAndGlyphs" fill="#111" >KITCHEN</text>
<text x="692.5" y="425.8" font-size="18.0" textLength="95.0" lengthAdjust="spacingAndGlyphs" fill="#111" >10'-6&quot; x 11'-1&quot;</text>
<text x="646.2" y="553.8" font-size="14.3" textLength="60.0" lengthAdjust="spacingAndGlyphs" fill="#111" >LAUNDRY</text>
<text x="636.2" y="571.3" font-size="14.3" textLength="80.0" lengthAdjust="spacingAndGlyphs" fill="#111" >10'-6&quot; x 4'-11&quot;</text>
<text x="850.3" y="499.8" font-size="14.0" textLength="17.3" lengthAdjust="spacingAndGlyphs" font-weight="bold" fill="#111" >UP</text>
<text x="821.0" y="593.8" font-size="14.0" textLength="46.2" lengthAdjust="spacingAndGlyphs" font-weight="bold" fill="#111" >DOWN</text>
<text x="681.2" y="695.0" font-size="18.0" textLength="65.0" lengthAdjust="spacingAndGlyphs" fill="#111" >GARAGE</text>
<text x="662.5" y="717.0" font-size="18.0" textLength="102.5" lengthAdjust="spacingAndGlyphs" fill="#111" >10'-4&quot; x 19'-7&quot;</text>
<text x="673.2" y="740.5" font-size="14.3" textLength="82.3" lengthAdjust="spacingAndGlyphs" fill="#111" >9'-0&quot; CEILING</text>
<text x="678.0" y="767.0" font-size="14.3" textLength="73.2" lengthAdjust="spacingAndGlyphs" fill="#111" >+227 SQ.FT.</text>
<text x="844.4" y="730.2" font-size="18.0" textLength="50.3" lengthAdjust="spacingAndGlyphs" fill="#111" >ENTRY</text>
<text x="825.0" y="751.8" font-size="18.0" textLength="89.2" lengthAdjust="spacingAndGlyphs" fill="#111" >8'-9&quot; x 4'-2&quot;</text>
<text x="890.3" y="815.8" font-size="18.0" textLength="56.5" lengthAdjust="spacingAndGlyphs" fill="#111" >PORCH</text>
<text x="872.2" y="837.8" font-size="18.0" textLength="92.8" lengthAdjust="spacingAndGlyphs" fill="#111" >11'-8&quot; x 6'-0&quot;</text>
<text x="885.4" y="860.4" font-size="14.3" textLength="65.9" lengthAdjust="spacingAndGlyphs" fill="#111" >+70 SQ.FT.</text>
<text x="818.8" y="874.4" font-size="14.0" textLength="45.9" lengthAdjust="spacingAndGlyphs" font-weight="bold" fill="#111" >DOWN</text>
<text x="1379.5" y="167.0" font-size="14.3" textLength="95.5" lengthAdjust="spacingAndGlyphs" fill="#111" >WINDOW SEAT</text>
<text x="1350.0" y="276.2" font-size="18.0" textLength="159.2" lengthAdjust="spacingAndGlyphs" fill="#111" >PRIMARY BEDROOM</text>
<text x="1378.0" y="298.2" font-size="18.0" textLength="102.5" lengthAdjust="spacingAndGlyphs" fill="#111" >12'-2&quot; x 13'-0&quot;</text>
<text x="1385.5" y="317.5" font-size="14.3" textLength="82.5" lengthAdjust="spacingAndGlyphs" fill="#111" >8'-0&quot; CEILING</text>
<text x="1218.7" y="358.8" font-size="14.3" textLength="63.3" lengthAdjust="spacingAndGlyphs" fill="#111" >WALK - IN</text>
<text x="1226.2" y="376.2" font-size="14.3" textLength="47.5" lengthAdjust="spacingAndGlyphs" fill="#111" >CLOSET</text>
<text x="1213.0" y="393.2" font-size="14.3" textLength="75.0" lengthAdjust="spacingAndGlyphs" fill="#111" >9'-4&quot; x 3'-11&quot;</text>
<text x="1219.2" y="478.8" font-size="18.0" textLength="82.8" lengthAdjust="spacingAndGlyphs" fill="#111" >BEDROOM</text>
<text x="1209.2" y="500.8" font-size="18.0" textLength="101.5" lengthAdjust="spacingAndGlyphs" fill="#111" >9'-10&quot; x 9'-10&quot;</text>
<text x="1371.7" y="592.2" font-size="14.0" textLength="45.0" lengthAdjust="spacingAndGlyphs" font-weight="bold" fill="#111" >DOWN</text>
<text x="1421.7" y="686.2" font-size="18.0" textLength="53.3" lengthAdjust="spacingAndGlyphs" fill="#111" >OFFICE</text>
<text x="1403.7" y="708.3" font-size="18.0" textLength="89.3" lengthAdjust="spacingAndGlyphs" fill="#111" >11'-1&quot; x 9'-7&quot;</text>
<text x="1381.2" y="725.8" font-size="14.3" textLength="135.0" lengthAdjust="spacingAndGlyphs" fill="#111" >8'-0&quot; SLOPED CEILING</text>
<text x="1222.0" y="695.6" font-size="18.0" textLength="82.2" lengthAdjust="spacingAndGlyphs" fill="#111" >BEDROOM</text>
<text x="1214.5" y="717.6" font-size="18.0" textLength="98.0" lengthAdjust="spacingAndGlyphs" fill="#111" >10'-5&quot; x 10'-1&quot;</text>
<text x="546.2" y="207.5" font-size="22.6" textLength="35.0" lengthAdjust="spacingAndGlyphs" fill="#111" stroke="#111" stroke-width="0.45">779</text>
<text x="542.0" y="232.5" font-size="15.5" textLength="66.0" lengthAdjust="spacingAndGlyphs" fill="#111" stroke="#111" stroke-width="0.5">fin. sq. ft.</text>
<text x="1099.2" y="401.2" font-size="22.6" textLength="35.0" lengthAdjust="spacingAndGlyphs" fill="#111" stroke="#111" stroke-width="0.45">814</text>
<text x="1095.5" y="426.2" font-size="15.5" textLength="66.2" lengthAdjust="spacingAndGlyphs" fill="#111" stroke="#111" stroke-width="0.5">fin. sq. ft.</text>
<text x="34.5" y="230.0" font-size="15.5" textLength="65.5" lengthAdjust="spacingAndGlyphs" fill="#111" stroke="#111" stroke-width="0.5">fin. sq. ft.</text>
<text transform="translate(511.5,468.8) scale(0.9,1)" x="0" y="0" font-size="24" text-anchor="middle" fill="#111">L</text>
<text transform="translate(511.5,499.2) scale(1.2,1)" x="0" y="0" font-size="24" text-anchor="middle" fill="#111">O</text>
<text transform="translate(511.5,529.6) scale(1.06,1)" x="0" y="0" font-size="24" text-anchor="middle" fill="#111">W</text>
<text transform="translate(511.5,560.0) scale(0.92,1)" x="0" y="0" font-size="24" text-anchor="middle" fill="#111">E</text>
<text transform="translate(511.5,590.4) scale(1,1)" x="0" y="0" font-size="24" text-anchor="middle" fill="#111">R</text>
<text transform="translate(511.5,651.2) scale(0.9,1)" x="0" y="0" font-size="24" text-anchor="middle" fill="#111">L</text>
<text transform="translate(511.5,681.6) scale(0.92,1)" x="0" y="0" font-size="24" text-anchor="middle" fill="#111">E</text>
<text transform="translate(511.5,712.0) scale(1,1)" x="0" y="0" font-size="24" text-anchor="middle" fill="#111">V</text>
<text transform="translate(511.5,742.4) scale(0.92,1)" x="0" y="0" font-size="24" text-anchor="middle" fill="#111">E</text>
<text transform="translate(511.5,772.8) scale(0.9,1)" x="0" y="0" font-size="24" text-anchor="middle" fill="#111">L</text>
<text transform="translate(1017.5,488.8) scale(1.2,1)" x="0" y="0" font-size="24" text-anchor="middle" fill="#111">M</text>
<text transform="translate(1017.5,519.2) scale(1,1)" x="0" y="0" font-size="24" text-anchor="middle" fill="#111">A</text>
<text transform="translate(1017.5,549.6) scale(1,1)" x="0" y="0" font-size="24" text-anchor="middle" fill="#111">I</text>
<text transform="translate(1017.5,580.0) scale(1,1)" x="0" y="0" font-size="24" text-anchor="middle" fill="#111">N</text>
<text transform="translate(1017.5,640.8) scale(0.9,1)" x="0" y="0" font-size="24" text-anchor="middle" fill="#111">L</text>
<text transform="translate(1017.5,671.2) scale(0.92,1)" x="0" y="0" font-size="24" text-anchor="middle" fill="#111">E</text>
<text transform="translate(1017.5,701.6) scale(1,1)" x="0" y="0" font-size="24" text-anchor="middle" fill="#111">V</text>
<text transform="translate(1017.5,732.0) scale(0.92,1)" x="0" y="0" font-size="24" text-anchor="middle" fill="#111">E</text>
<text transform="translate(1017.5,762.4) scale(0.9,1)" x="0" y="0" font-size="24" text-anchor="middle" fill="#111">L</text>
<text transform="translate(1567.2,469.5) scale(1,1)" x="0" y="0" font-size="24" text-anchor="middle" fill="#111">U</text>
<text transform="translate(1567.2,499.9) scale(1,1)" x="0" y="0" font-size="24" text-anchor="middle" fill="#111">P</text>
<text transform="translate(1567.2,530.3) scale(1,1)" x="0" y="0" font-size="24" text-anchor="middle" fill="#111">P</text>
<text transform="translate(1567.2,560.7) scale(0.92,1)" x="0" y="0" font-size="24" text-anchor="middle" fill="#111">E</text>
<text transform="translate(1567.2,591.1) scale(1,1)" x="0" y="0" font-size="24" text-anchor="middle" fill="#111">R</text>
<text transform="translate(1567.2,651.9) scale(0.9,1)" x="0" y="0" font-size="24" text-anchor="middle" fill="#111">L</text>
<text transform="translate(1567.2,682.3) scale(0.92,1)" x="0" y="0" font-size="24" text-anchor="middle" fill="#111">E</text>
<text transform="translate(1567.2,712.7) scale(1,1)" x="0" y="0" font-size="24" text-anchor="middle" fill="#111">V</text>
<text transform="translate(1567.2,743.1) scale(0.92,1)" x="0" y="0" font-size="24" text-anchor="middle" fill="#111">E</text>
<text transform="translate(1567.2,773.5) scale(0.9,1)" x="0" y="0" font-size="24" text-anchor="middle" fill="#111">L</text>
<polygon points="27.6,119.6 27.6,156.2 60.1,138.0" fill="#000"/>
<text transform="translate(50.5,155.39999999999998) rotate(-30)" x="0" y="4.8" font-size="13.5" stroke="#000" stroke-width="0.45" text-anchor="middle" fill="#000">N</text>
<polygon points="535.7,122.3 535.7,158.9 568.2,140.7" fill="#000"/>
<text transform="translate(558.6,158.1) rotate(-30)" x="0" y="4.8" font-size="13.5" stroke="#000" stroke-width="0.45" text-anchor="middle" fill="#000">N</text>
<polygon points="1089.2,316.8 1089.2,353.40000000000003 1121.7,335.2" fill="#000"/>
<text transform="translate(1112.1000000000001,352.6) rotate(-30)" x="0" y="4.8" font-size="13.5" stroke="#000" stroke-width="0.45" text-anchor="middle" fill="#000">N</text>
<path fill-rule="evenodd" fill="rgba(0,0,0,0.38)" d="M8.8,8.8 H168.1 V172.6 H8.8 Z M31.2,29.2 H76 V151.1 H31.2 Z M93.6,29.2 H108.7 A28.8,28.8 0 0 1 108.7,86.8 H93.6 Z M93.6,90.7 L154,151.1 H93.6 Z"/>
<path fill="rgba(255,255,255,0.36)" d="M31.2,29.2 H76 V151.1 H31.2 Z M93.6,29.2 H108.7 A28.8,28.8 0 0 1 108.7,86.8 H93.6 Z M93.6,90.7 L154,151.1 H93.6 Z"/>
<rect x="8.8" y="172.6" width="177" height="46" fill="rgba(255,255,255,0.43)"/>
<defs><clipPath id="rc"><text x="6.2" y="208.1" font-size="36.6" textLength="164.2" lengthAdjust="spacingAndGlyphs">REALTOR</text></clipPath></defs>
<text x="6.2" y="208.1" font-size="36.6" textLength="164.2" lengthAdjust="spacingAndGlyphs" fill="#aeaeae" stroke="#8c8c8c" stroke-width="2.6" clip-path="url(#rc)">REALTOR</text>
<circle cx="175.8" cy="181.5" r="6.6" fill="none" stroke="#aaa" stroke-width="1.6"/><text x="175.8" y="185.3" font-size="10.5" text-anchor="middle" fill="#aaa" font-weight="bold">R</text>
<text x="40.0" y="203.9" font-size="22.6" textLength="32.5" lengthAdjust="spacingAndGlyphs" fill="#111" stroke="#111" stroke-width="0.45">644</text>
<text x="1518.6" y="919.6" font-size="11.5" textLength="75.8" lengthAdjust="spacingAndGlyphs" fill="#8c8c8c">MLS®1016146</text>
</svg></body></html>
